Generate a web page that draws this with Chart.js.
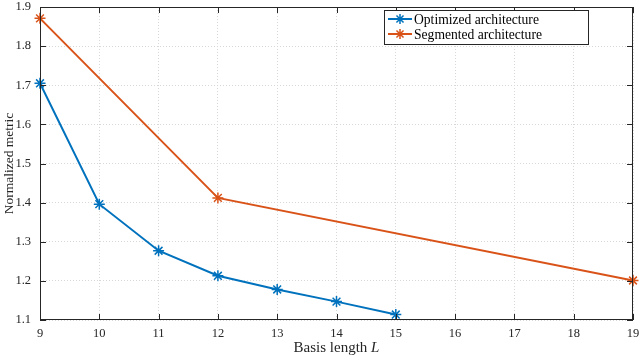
<!DOCTYPE html>
<html>
<head>
<meta charset="utf-8">
<script src="https://cdn.jsdelivr.net/npm/chart.js@4"></script>
<style>
  html, body { margin: 0; padding: 0; background: #fff; }
  #wrap { width: 640px; height: 356px; }
</style>
</head>
<body>
<div id="wrap"><canvas id="c" width="640" height="356"></canvas></div>
<script>
const xTicks = [9, 10, 11, 12, 13, 14, 15, 16, 17, 18, 19];
const yTicks = [1.1, 1.2, 1.3, 1.4, 1.5, 1.6, 1.7, 1.8, 1.9];

const optX = [9, 10, 11, 12, 13, 14, 15];
const optY = [1.705, 1.396, 1.277, 1.213, 1.178, 1.147, 1.114];

const segX = [9, 12, 19];
const segY = [1.871, 1.412, 1.201];

const BLUE = '#0072BD';
const ORANGE = '#D95319';
const FONT = '"Liberation Serif", "Times New Roman", serif';

const framePlugin = {
  id: 'frame',
  afterDraw(chart) {
    const { ctx, chartArea: a, scales: { x, y } } = chart;
    ctx.save();
    ctx.strokeStyle = '#262626';
    ctx.lineWidth = 1;
    ctx.strokeRect(a.left + 0.5, a.top + 0.5, a.right - a.left - 1, a.bottom - a.top - 1);
    ctx.beginPath();
    const t = 6;
    xTicks.forEach(v => {
      const px = Math.round(x.getPixelForValue(v)) + 0.5;
      ctx.moveTo(px, a.bottom); ctx.lineTo(px, a.bottom - t);
      ctx.moveTo(px, a.top); ctx.lineTo(px, a.top + t);
    });
    yTicks.forEach(v => {
      const py = Math.round(y.getPixelForValue(v)) + 0.5;
      ctx.moveTo(a.left, py); ctx.lineTo(a.left + t, py);
      ctx.moveTo(a.right, py); ctx.lineTo(a.right - t, py);
    });
    ctx.stroke();

    // axis titles
    ctx.fillStyle = '#262626';
    ctx.textBaseline = 'alphabetic';
    ctx.font = `15px ${FONT}`;
    const xt = 'Basis length ';
    const w1 = ctx.measureText(xt).width;
    ctx.font = `italic 15px ${FONT}`;
    const w2 = ctx.measureText('L').width;
    const cx = (a.left + a.right) / 2;
    const sx = cx - (w1 + w2) / 2;
    ctx.font = `15px ${FONT}`;
    ctx.textAlign = 'left';
    ctx.fillText(xt, sx, 352);
    ctx.font = `italic 15px ${FONT}`;
    ctx.fillText('L', sx + w1, 352);

    ctx.save();
    ctx.translate(13, (a.top + a.bottom) / 2);
    ctx.rotate(-Math.PI / 2);
    ctx.textAlign = 'center';
    ctx.font = `13.5px ${FONT}`;
    ctx.fillText('Normalized metric', 0, 0);
    ctx.restore();

    // legend
    const lx = 384, ly = 10, lw = 204, lh = 34;
    ctx.fillStyle = '#fff';
    ctx.fillRect(lx, ly, lw, lh);
    ctx.strokeStyle = '#262626';
    ctx.lineWidth = 1;
    ctx.strokeRect(lx + 0.5, ly + 0.5, lw, lh);
    const items = [
      { label: 'Optimized architecture', color: BLUE },
      { label: 'Segmented architecture', color: ORANGE },
    ];
    items.forEach((it, i) => {
      const yy = ly + 9 + i * 15;
      ctx.strokeStyle = it.color;
      ctx.lineWidth = 2;
      ctx.beginPath();
      ctx.moveTo(388, yy); ctx.lineTo(412, yy);
      ctx.stroke();
      const r = 5;
      ctx.beginPath();
      ctx.moveTo(400 - r, yy); ctx.lineTo(400 + r, yy);
      ctx.moveTo(400, yy - r); ctx.lineTo(400, yy + r);
      const d = r * 0.707;
      ctx.moveTo(400 - d, yy - d); ctx.lineTo(400 + d, yy + d);
      ctx.moveTo(400 - d, yy + d); ctx.lineTo(400 + d, yy - d);
      ctx.lineWidth = 1.5;
      ctx.stroke();
      ctx.fillStyle = '#000';
      ctx.font = `13.6px ${FONT}`;
      ctx.textAlign = 'left';
      ctx.textBaseline = 'middle';
      ctx.fillText(it.label, 414, yy + 1);
    });
    ctx.restore();
  }
};

const mkPoints = (xs, ys) => xs.map((v, i) => ({ x: v, y: ys[i] }));

new Chart(document.getElementById('c'), {
  type: 'line',
  plugins: [framePlugin],
  data: {
    datasets: [
      {
        label: 'Optimized architecture',
        data: mkPoints(optX, optY),
        borderColor: BLUE,
        backgroundColor: BLUE,
        borderWidth: 2,
        pointStyle: 'star',
        pointRadius: 5.5,
        pointBorderWidth: 1.5,
        tension: 0,
        clip: false,
      },
      {
        label: 'Segmented architecture',
        data: mkPoints(segX, segY),
        borderColor: ORANGE,
        backgroundColor: ORANGE,
        borderWidth: 2,
        pointStyle: 'star',
        pointRadius: 5.5,
        pointBorderWidth: 1.5,
        tension: 0,
        clip: false,
      }
    ]
  },
  options: {
    responsive: false,
    animation: false,
    layout: { padding: { left: 0, right: 6, top: 5, bottom: 0 } },
    scales: {
      x: {
        type: 'linear',
        min: 9, max: 19,
        afterBuildTicks: s => { s.ticks = xTicks.map(v => ({ value: v })); },
        afterFit: s => { s.height = 36; s.paddingLeft = 0; s.paddingRight = 0; },
        grid: { color: '#d8d8d8', drawTicks: false },
        border: { display: false, dash: [1, 2] },
        ticks: { color: '#262626', font: { family: FONT, size: 12.5 }, padding: 6, maxRotation: 0 },
      },
      y: {
        type: 'linear',
        min: 1.1, max: 1.9,
        afterBuildTicks: s => { s.ticks = yTicks.map(v => ({ value: v })); },
        afterFit: s => { s.width = 40; s.paddingTop = 0; s.paddingBottom = 0; },
        grid: { color: '#d8d8d8', drawTicks: false },
        border: { display: false, dash: [1, 2] },
        ticks: { color: '#262626', font: { family: FONT, size: 12.5 }, padding: 9, callback: v => v.toFixed(1) },
      }
    },
    plugins: {
      legend: { display: false },
      tooltip: { enabled: false },
    }
  }
});
</script>
</body>
</html>
